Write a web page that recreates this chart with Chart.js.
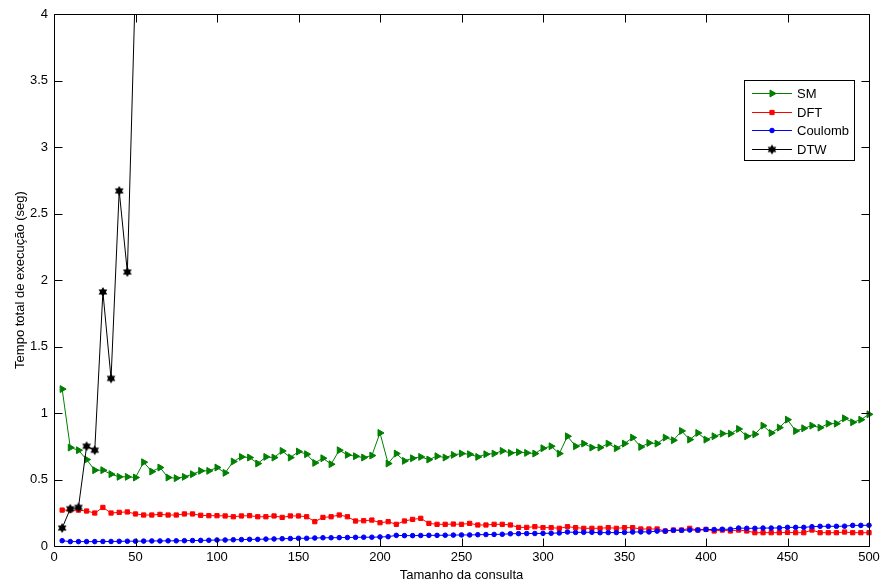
<!DOCTYPE html>
<html>
<head>
<meta charset="utf-8">
<script src="https://cdn.jsdelivr.net/npm/chart.js@4.4.1/dist/chart.umd.min.js"></script>
<style>
  html, body { margin: 0; padding: 0; background: #fff; }
  #wrap { width: 880px; height: 583px; position: relative; }
</style>
</head>
<body>
<div id="wrap"><canvas id="chart"></canvas></div>
<script>
// Tamanho da consulta (eixo x)
const sizes = [
  5, 10, 15, 20, 25, 30, 35, 40, 45, 50,
  55, 60, 65, 70, 75, 80, 85, 90, 95, 100,
  105, 110, 115, 120, 125, 130, 135, 140, 145, 150,
  155, 160, 165, 170, 175, 180, 185, 190, 195, 200,
  205, 210, 215, 220, 225, 230, 235, 240, 245, 250,
  255, 260, 265, 270, 275, 280, 285, 290, 295, 300,
  305, 310, 315, 320, 325, 330, 335, 340, 345, 350,
  355, 360, 365, 370, 375, 380, 385, 390, 395, 400,
  405, 410, 415, 420, 425, 430, 435, 440, 445, 450,
  455, 460, 465, 470, 475, 480, 485, 490, 495, 500
];

const smTimes = [
  1.18, 0.74, 0.72, 0.65, 0.57, 0.57, 0.54, 0.52, 0.52, 0.515,
  0.63, 0.56, 0.59, 0.515, 0.51, 0.52, 0.54, 0.565, 0.565, 0.59,
  0.55, 0.635, 0.67, 0.665, 0.62, 0.67, 0.665, 0.715, 0.665, 0.71,
  0.69, 0.625, 0.66, 0.615, 0.72, 0.685, 0.675, 0.665, 0.68, 0.85,
  0.62, 0.695, 0.64, 0.66, 0.67, 0.65, 0.675, 0.665, 0.685, 0.695,
  0.69, 0.67, 0.69, 0.695, 0.715, 0.7, 0.705, 0.7, 0.695, 0.735,
  0.75, 0.695, 0.825, 0.75, 0.77, 0.74, 0.74, 0.77, 0.735, 0.77,
  0.815, 0.745, 0.775, 0.77, 0.815, 0.795, 0.865, 0.8, 0.85, 0.8,
  0.825, 0.845, 0.845, 0.88, 0.825, 0.84, 0.905, 0.85, 0.89, 0.95,
  0.865, 0.885, 0.905, 0.89, 0.92, 0.92, 0.96, 0.93, 0.95, 0.99
];

const dftTimes = [
  0.27, 0.27, 0.27, 0.263, 0.248, 0.29, 0.248, 0.253, 0.256, 0.241,
  0.233, 0.233, 0.238, 0.233, 0.233, 0.241, 0.241, 0.231, 0.228, 0.228,
  0.226, 0.22, 0.226, 0.228, 0.22, 0.22, 0.226, 0.215, 0.226, 0.226,
  0.22, 0.183, 0.215, 0.22, 0.233, 0.22, 0.188, 0.19, 0.195, 0.175,
  0.183, 0.163, 0.188, 0.2, 0.208, 0.17, 0.163, 0.163, 0.165, 0.163,
  0.17, 0.158, 0.158, 0.163, 0.163, 0.158, 0.14, 0.14, 0.145, 0.138,
  0.138, 0.133, 0.145, 0.138, 0.133, 0.133, 0.133, 0.138, 0.133, 0.138,
  0.138, 0.128, 0.128, 0.128, 0.113, 0.12, 0.12, 0.133, 0.12, 0.125,
  0.113, 0.12, 0.113, 0.12, 0.113, 0.1, 0.1, 0.1, 0.1, 0.102,
  0.1, 0.1, 0.12, 0.1, 0.1, 0.1, 0.105, 0.1, 0.1, 0.1
];

const coulombTimes = [
  0.04, 0.033, 0.033, 0.033, 0.033, 0.034, 0.034, 0.035, 0.036, 0.036,
  0.037, 0.038, 0.038, 0.039, 0.039, 0.04, 0.041, 0.042, 0.043, 0.045,
  0.045, 0.047, 0.048, 0.05, 0.05, 0.052, 0.053, 0.055, 0.056, 0.058,
  0.058, 0.06, 0.062, 0.062, 0.063, 0.064, 0.065, 0.066, 0.066, 0.068,
  0.07, 0.08, 0.078, 0.078, 0.079, 0.08, 0.08, 0.081, 0.082, 0.083,
  0.083, 0.085, 0.086, 0.087, 0.088, 0.092, 0.093, 0.094, 0.094, 0.095,
  0.096, 0.098, 0.105, 0.102, 0.103, 0.103, 0.1, 0.101, 0.101, 0.102,
  0.105, 0.106, 0.106, 0.112, 0.112, 0.118, 0.118, 0.12, 0.12, 0.124,
  0.124, 0.126, 0.126, 0.135, 0.133, 0.133, 0.135, 0.135, 0.136, 0.14,
  0.14, 0.14, 0.145, 0.148, 0.148, 0.148, 0.149, 0.155, 0.155, 0.156
];

// DTW sai do gráfico depois de 50
const dtwTimes = [0.135, 0.28, 0.29, 0.75, 0.72, 1.91, 1.26, 2.67, 2.06, 4.25];

const xTicks = [0, 50, 100, 150, 200, 250, 300, 350, 400, 450, 500];
const yTicks = [0, 0.5, 1, 1.5, 2, 2.5, 3, 3.5, 4];

const FONT = '"Liberation Sans", Arial, Helvetica, sans-serif';

Chart.defaults.font.family = FONT;
Chart.defaults.font.size = 13;
Chart.defaults.color = '#000';

// hexagrama preenchido para o DTW
function makeHexagram(r, color) {
  const c = document.createElement('canvas');
  const s = Math.ceil(r * 2 + 2);
  c.width = s; c.height = s;
  const g = c.getContext('2d');
  const cx = s / 2, cy = s / 2;
  const inner = r / Math.sqrt(3);
  g.beginPath();
  for (let i = 0; i < 12; i++) {
    const a = -Math.PI / 2 + i * Math.PI / 6;
    const rr = i % 2 === 0 ? r : inner;
    const px = cx + Math.cos(a) * rr, py = cy + Math.sin(a) * rr;
    if (i === 0) g.moveTo(px, py); else g.lineTo(px, py);
  }
  g.closePath();
  g.fillStyle = color;
  g.fill();
  return c;
}
const hexStar = makeHexagram(5, '#000');

function pts(ys) {
  return ys.map((y, i) => ({ x: sizes[i], y: y }));
}

const series = [
  { label: 'SM', data: pts(smTimes), color: '#008000', style: 'triangle', radius: 4, rotation: 90, order: 3 },
  { label: 'DFT', data: pts(dftTimes), color: '#ff0000', style: 'rect', radius: 3, rotation: 0, order: 2 },
  { label: 'Coulomb', data: pts(coulombTimes), color: '#0000ff', style: 'circle', radius: 2.3, rotation: 0, order: 1 },
  { label: 'DTW', data: pts(dtwTimes), color: '#000000', style: hexStar, radius: 5, rotation: 0, order: 0 }
];

// moldura estilo MATLAB, ticks para dentro e legenda
const framePlugin = {
  id: 'frame',
  afterDraw(chart) {
    const ctx = chart.ctx;
    const a = chart.chartArea;
    const xs = chart.scales.x, ys = chart.scales.y;
    const L = Math.round(a.left) + 0.5, R = Math.round(a.right) + 0.5;
    const T = Math.round(a.top) + 0.5, B = Math.round(a.bottom) + 0.5;
    const tl = 8;
    ctx.save();
    ctx.strokeStyle = '#000';
    ctx.lineWidth = 1;
    ctx.beginPath();
    ctx.rect(L, T, R - L, B - T);
    xTicks.forEach(v => {
      const px = Math.round(xs.getPixelForValue(v)) + 0.5;
      ctx.moveTo(px, B); ctx.lineTo(px, B - tl);
      ctx.moveTo(px, T); ctx.lineTo(px, T + tl);
    });
    yTicks.forEach(v => {
      const py = Math.round(ys.getPixelForValue(v)) + 0.5;
      ctx.moveTo(L, py); ctx.lineTo(L + tl, py);
      ctx.moveTo(R, py); ctx.lineTo(R - tl, py);
    });
    ctx.stroke();

    // legenda
    const bx = 744.5, by = 80.5, bw = 110, bh = 80;
    ctx.fillStyle = '#fff';
    ctx.fillRect(bx, by, bw, bh);
    ctx.strokeRect(bx, by, bw, bh);
    const rows = [93, 112, 130, 149];
    ctx.font = '13px ' + FONT;
    ctx.textBaseline = 'middle';
    ctx.textAlign = 'left';
    series.forEach((s, i) => {
      const y = rows[i];
      ctx.strokeStyle = s.color;
      ctx.lineWidth = 1;
      ctx.beginPath();
      ctx.moveTo(752, y + 0.5); ctx.lineTo(792, y + 0.5);
      ctx.stroke();
      ctx.fillStyle = s.color;
      Chart.helpers.drawPoint(ctx, {
        pointStyle: s.style, radius: s.radius, rotation: s.rotation, borderWidth: 1
      }, 772, y + 0.5);
      ctx.fillStyle = '#000';
      ctx.fillText(s.label, 797, y + 1);
    });
    ctx.restore();
  }
};

new Chart(document.getElementById('chart'), {
  type: 'line',
  data: {
    datasets: series.map(s => ({
      label: s.label,
      data: s.data,
      borderColor: s.color,
      backgroundColor: s.color,
      pointBackgroundColor: s.color,
      pointBorderColor: s.color,
      pointStyle: s.style,
      pointRadius: s.radius,
      pointRotation: s.rotation,
      pointBorderWidth: 1,
      borderWidth: 1,
      tension: 0,
      fill: false,
      order: s.order,
      clip: s.label === 'DTW' ? 0 : 10
    }))
  },
  options: {
    responsive: true,
    maintainAspectRatio: false,
    animation: false,
    events: [],
    layout: { padding: { top: 14, right: 11, left: 0, bottom: 0 } },
    plugins: {
      legend: { display: false },
      tooltip: { enabled: false }
    },
    scales: {
      x: {
        type: 'linear',
        min: 0,
        max: 500,
        afterBuildTicks(scale) { scale.ticks = xTicks.map(v => ({ value: v })); },
        afterFit(scale) {
          scale.height = 37;
          scale.paddingRight = 0;
          scale.paddingLeft = 0;
        },
        grid: { display: false, drawTicks: false },
        border: { display: false },
        ticks: { padding: 4, maxRotation: 0, autoSkip: false, font: { size: 13 }, callback: v => String(v) },
        title: { display: true, text: 'Tamanho da consulta', font: { size: 13 }, padding: { top: 0, bottom: 0 } }
      },
      y: {
        type: 'linear',
        min: 0,
        max: 4,
        afterBuildTicks(scale) { scale.ticks = yTicks.map(v => ({ value: v })); },
        afterFit(scale) {
          scale.width = 54;
          scale.paddingTop = 0;
          scale.paddingBottom = 0;
        },
        grid: { display: false, drawTicks: false },
        border: { display: false },
        ticks: { padding: 6, autoSkip: false, font: { size: 13 }, callback: v => String(v) },
        title: { display: true, text: 'Tempo total de execução (seg)', font: { size: 13 }, padding: { top: 13, bottom: 0 } }
      }
    }
  },
  plugins: [framePlugin]
});
</script>
</body>
</html>
